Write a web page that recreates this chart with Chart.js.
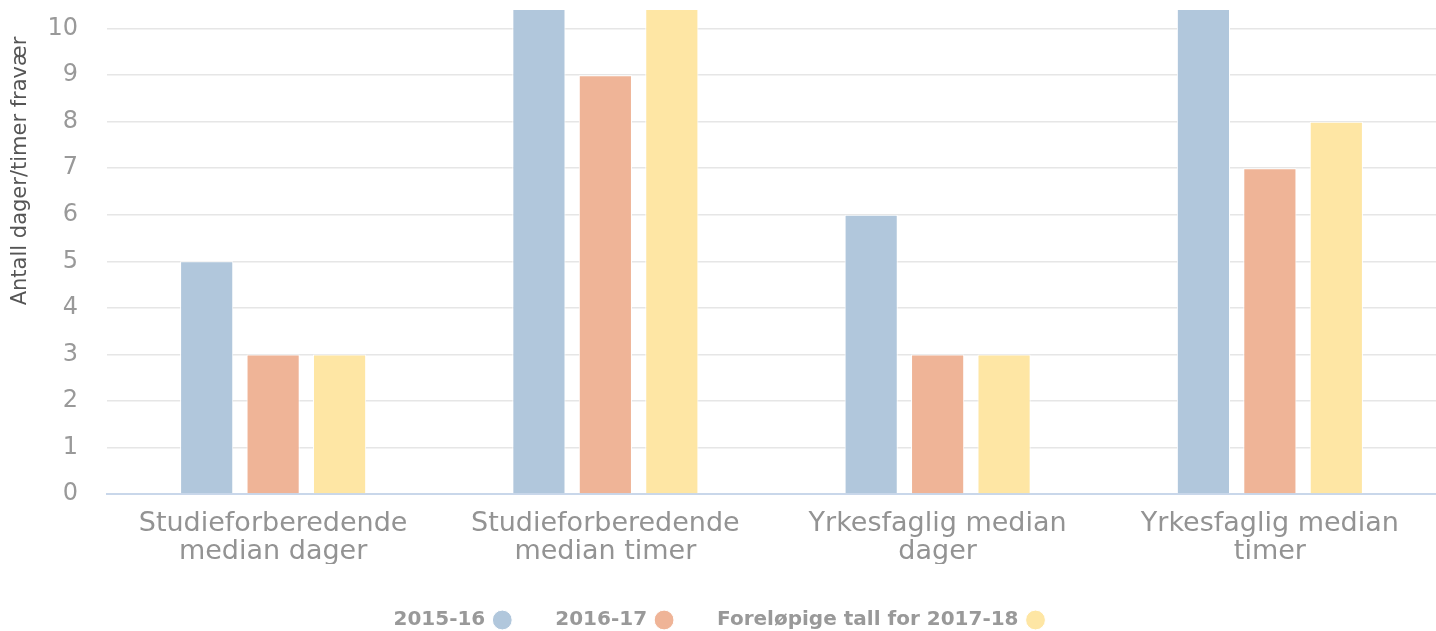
<!DOCTYPE html>
<html>
<head>
<meta charset="utf-8">
<script src="https://cdn.jsdelivr.net/npm/chart.js@4"></script>
<style>
  html, body { margin: 0; padding: 0; background: #fff; }
  #wrap { width: 1436px; height: 631px; }
</style>
</head>
<body>
<div id="wrap"><canvas id="chart"></canvas></div>
<script>
const categories = [
  ['Studieforberedende', 'median dager'],
  ['Studieforberedende', 'median timer'],
  ['Yrkesfaglig median', 'dager'],
  ['Yrkesfaglig median', 'timer']
];
const seriesNames = ['2015-16', '2016-17', 'Foreløpige tall for 2017-18'];
// bars above 10 run off the top of the plot in the reference; values estimated
const values2015 = [5, 13, 6, 13];
const values2016 = [3, 9, 3, 7];
const values2017 = [3, 13, 3, 8];
const yTicks = [0, 1, 2, 3, 4, 5, 6, 7, 8, 9, 10];
const colors = ['#b1c7dc', '#efb497', '#fee6a4'];

const FONT = '"DejaVu Sans", Verdana, sans-serif';

new Chart(document.getElementById('chart').getContext('2d'), {
  type: 'bar',
  data: {
    labels: categories,
    datasets: [values2015, values2016, values2017].map((d, i) => ({
      label: seriesNames[i],
      data: d,
      backgroundColor: colors[i],
      borderColor: '#ffffff',
      borderWidth: 1,
      barPercentage: 0.8,
      categoryPercentage: 0.6,
    })),
  },
  options: {
    responsive: true,
    maintainAspectRatio: false,
    animation: false,
    layout: { padding: { top: 10, right: 0, left: 0, bottom: -9 } },
    scales: {
      x: {
        grid: { display: false, drawTicks: false },
        border: { color: '#c9d7ea', width: 2 },
        afterFit: (s) => { s.paddingLeft = 0; s.paddingRight = 0; s.height = 70; },
        ticks: {
          color: '#939393',
          font: { family: FONT, size: 27, lineHeight: '28px' },
          padding: 16,
          maxRotation: 0,
        },
      },
      y: {
        min: 0,
        max: 10.4,
        afterBuildTicks: (s) => { s.ticks = yTicks.map((v) => ({ value: v })); },
        // keep the wide label gap from shifting the plot area
        afterFit: (s) => { s.paddingTop = 0; s.paddingBottom = 0; s.width = 107; },
        ticks: {
          color: '#999999',
          font: { family: FONT, size: 24 },
          padding: 29,
        },
        grid: { color: '#e6e6e6', lineWidth: 1.5, drawTicks: false },
        border: { display: false },
        title: {
          display: true,
          align: 'end',
          // trailing spaces hold the title a little below the top edge, as in the original
          text: 'Antall dager/timer fravær    ',
          color: '#555555',
          font: { family: FONT, size: 21 },
          padding: { top: 8, bottom: 14 },
        },
      },
    },
    plugins: {
      legend: {
        position: 'bottom',
        rtl: true,
        reverse: true,
        textDirection: 'ltr',
        labels: {
          color: '#999999',
          font: { family: FONT, size: 20, weight: 'bold' },
          usePointStyle: true,
          pointStyle: 'circle',
          boxWidth: 14,
          boxHeight: 14,
          padding: 46,
        },
      },
      tooltip: { enabled: false },
    },
  },
});
</script>
</body>
</html>
